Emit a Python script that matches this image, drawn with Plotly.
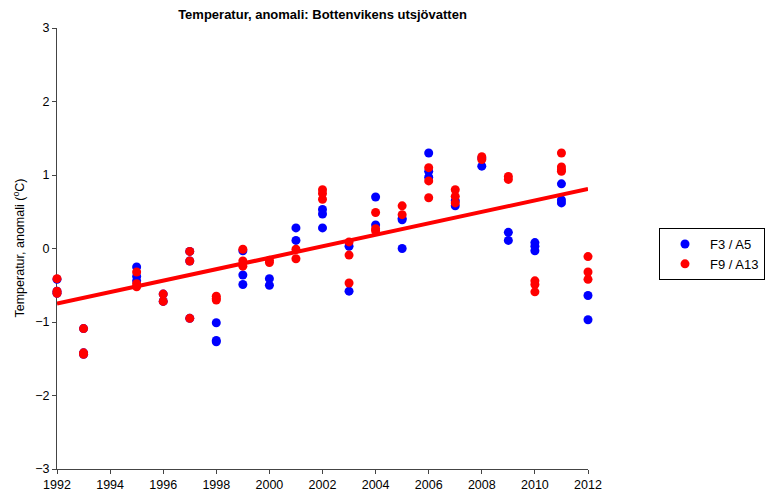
import plotly.graph_objects as go

# F3 / A5 (blue)
blue_years = [1992, 1992, 1992, 1993, 1993, 1993, 1995, 1995, 1995, 1996, 1996,
              1997, 1997, 1997, 1998, 1998, 1998, 1999, 1999, 1999, 2000, 2000,
              2001, 2001, 2002, 2002, 2002, 2003, 2003, 2004, 2004,
              2005, 2005, 2005, 2006, 2006, 2006, 2007, 2007, 2008, 2008,
              2009, 2009, 2010, 2010, 2010, 2011, 2011, 2011, 2012, 2012]
blue_values = [-0.42, -0.58, -0.61, -1.09, -1.42, -1.44, -0.25, -0.38, -0.44, -0.62, -0.72,
               -0.04, -0.17, -0.95, -1.01, -1.25, -1.27, -0.03, -0.36, -0.49, -0.41, -0.50,
               0.28, 0.11, 0.53, 0.47, 0.28, 0.03, -0.58, 0.70, 0.32,
               0.41, 0.39, 0.00, 1.30, 1.05, 0.97, 0.65, 0.58, 1.23, 1.12,
               0.22, 0.11, 0.08, 0.03, -0.03, 0.88, 0.66, 0.62, -0.64, -0.97]

# F9 / A13 (red)
red_years = [1992, 1992, 1992, 1993, 1993, 1993, 1995, 1995, 1995, 1996, 1996,
             1997, 1997, 1997, 1998, 1998, 1998, 1999, 1999, 1999, 2000, 2000,
             2001, 2001, 2002, 2002, 2002, 2003, 2003, 2003, 2004, 2004, 2004,
             2005, 2005, 2006, 2006, 2006, 2007, 2007, 2007, 2008, 2008,
             2009, 2009, 2010, 2010, 2010, 2011, 2011, 2011, 2011, 2012, 2012, 2012]
red_values = [-0.41, -0.58, -0.61, -1.09, -1.42, -1.44, -0.32, -0.48, -0.52, -0.62, -0.72,
              -0.04, -0.17, -0.95, -0.65, -0.68, -0.70, -0.01, -0.17, -0.24, -0.16, -0.19,
              -0.01, -0.14, 0.80, 0.75, 0.67, 0.09, -0.09, -0.47, 0.49, 0.27, 0.24,
              0.58, 0.46, 1.10, 0.92, 0.69, 0.80, 0.71, 0.62, 1.25, 1.21,
              0.98, 0.94, -0.44, -0.49, -0.59, 1.30, 1.11, 1.07, 1.05, -0.11, -0.32, -0.42]

# trend line
trend_years = [1992, 2012]
trend_values = [-0.75, 0.81]

x_ticks = list(range(1992, 2013, 2))
y_ticks = [-3, -2, -1, 0, 1, 2, 3]
y_ticklabels = ["\u22123", "\u22122", "\u22121", "0", "1", "2", "3"]

FONT = "Liberation Sans, Arial, Helvetica, sans-serif"
L, R, T, B = 57, 588, 28, 469
W, H = 781, 498

fig = go.Figure()
fig.add_trace(go.Scatter(x=blue_years, y=blue_values, mode="markers", name="F3 / A5",
                         marker=dict(color="#0000ff", size=9), cliponaxis=False))
fig.add_trace(go.Scatter(x=red_years, y=red_values, mode="markers", name="F9 / A13",
                         marker=dict(color="#ff0000", size=9), cliponaxis=False))
fig.add_trace(go.Scatter(x=trend_years, y=trend_values, mode="lines", showlegend=False,
                         line=dict(color="#ff0000", width=4), cliponaxis=False))

fig.update_layout(
    width=W, height=H,
    margin=dict(l=L, r=W - R, t=T, b=H - B, autoexpand=False),
    paper_bgcolor="white", plot_bgcolor="white",
    font=dict(family=FONT, size=12.5, color="black"),
    title=dict(text="<b>Temperatur, anomali: Bottenvikens utsjövatten</b>",
               x=(L + R) / 2 / W, xanchor="center", y=1 - 14 / H, yanchor="middle",
               font=dict(size=13, family=FONT, color="black")),
    showlegend=True,
    legend=dict(x=(659 - L) / (R - L), xanchor="left", y=(B - 228) / (B - T), yanchor="top",
                bordercolor="black", borderwidth=1, bgcolor="white", itemwidth=40,
                font=dict(size=13, family=FONT), tracegroupgap=0),
    annotations=[dict(text="Temperatur, anomali (<sup>o</sup>C)", textangle=-90,
                      xref="paper", yref="paper", x=(18 - L) / (R - L), y=0.5,
                      xanchor="center", yanchor="middle", showarrow=False,
                      font=dict(size=12.5, family=FONT, color="black"))],
)
fig.update_xaxes(range=[1992, 2012], tickvals=x_ticks, ticktext=[str(t) for t in x_ticks],
                 showline=True, linecolor="#444", linewidth=1, ticks="outside", ticklen=4,
                 tickcolor="#444", showgrid=False, zeroline=False, layer="below traces",
                 automargin=False)
fig.update_yaxes(range=[-3, 3], tickvals=y_ticks, ticktext=y_ticklabels,
                 showline=True, linecolor="#444", linewidth=1, ticks="outside", ticklen=4,
                 tickcolor="#444", showgrid=False, zeroline=False, layer="below traces",
                 automargin=False)

fig.write_html("out.html", config={"displayModeBar": False},
               post_script="document.body.style.margin='0';document.body.style.padding='0';")
